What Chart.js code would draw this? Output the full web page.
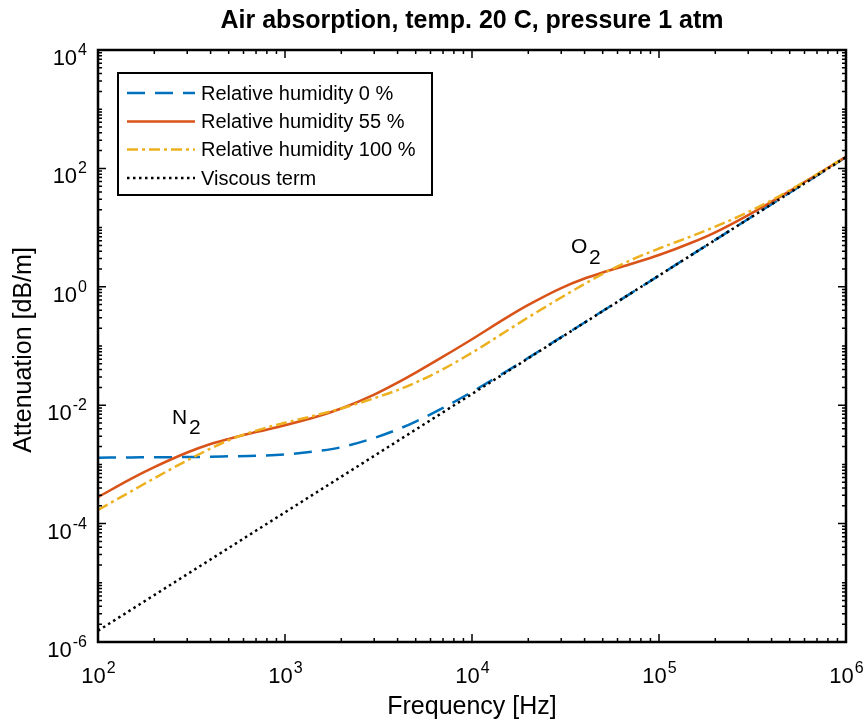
<!DOCTYPE html>
<html>
<head>
<meta charset="utf-8">
<script src="https://cdn.jsdelivr.net/npm/chart.js@4.4.1/dist/chart.umd.min.js"></script>
<style>
  body { margin: 0; background: #fff; }
  #wrap { width: 867px; height: 724px; }
</style>
</head>
<body>
<div id="wrap"><canvas id="airChart" width="867" height="724"></canvas></div>
<script>
// frequency grid [Hz] and attenuation [dB/m]
const freqs = [100, 150, 200, 300, 400, 500, 700, 1000, 1500, 2000, 3000, 4000, 5000, 7000,
  1e4, 1.5e4, 2e4, 3e4, 4e4, 5e4, 7e4, 1e5, 1.5e5, 2e5, 3e5, 5e5, 7e5, 1e6];
const rh0 = [1.3e-3, 1.31e-3, 1.32e-3, 1.33e-3, 1.35e-3, 1.37e-3, 1.4e-3, 1.47e-3, 1.68e-3, 1.95e-3,
  2.8e-3, 3.9e-3, 5.3e-3, 9.0e-3, 0.0168, 0.036, 0.063, 0.141, 0.25, 0.39, 0.76, 1.55, 3.5, 6.2,
  14, 38.8, 76, 155];
const rh55 = [2.8e-4, 5.7e-4, 9.0e-4, 1.59e-3, 2.21e-3, 2.7e-3, 3.52e-3, 4.59e-3, 6.5e-3, 8.8e-3,
  0.0151, 0.024, 0.0355, 0.066, 0.130, 0.290, 0.494, 0.953, 1.38, 1.74, 2.41, 3.44, 5.6, 8.34,
  16.3, 41.5, 79, 157];
const rh100 = [1.7e-4, 3.49e-4, 5.83e-4, 1.17e-3, 1.85e-3, 2.56e-3, 3.72e-3, 5.04e-3, 6.9e-3, 8.81e-3,
  0.0131, 0.018, 0.0241, 0.0406, 0.0771, 0.172, 0.305, 0.66, 1.12, 1.66, 2.78, 4.43, 7.2, 10.4,
  18.3, 42.6, 79.5, 157];
const viscFreqs = [100, 1e3, 1e4, 1e5, 1e6];
const viscous = [1.55e-6, 1.55e-4, 1.55e-2, 1.55, 155];

const xMajor = [2, 3, 4, 5, 6];           // exponents of labelled x ticks
const yMajor = [-6, -4, -2, 0, 2, 4];     // exponents of labelled y ticks
const seriesNames = ['Relative humidity 0 %', 'Relative humidity 55 %', 'Relative humidity 100 %', 'Viscous term'];

const FONT = '"Liberation Sans", Arial, sans-serif';
const BLUE = '#0072BD', RED = '#D95319', YELLOW = '#EDB120';

function pts(xs, ys) {
  return xs.map((x, i) => ({ x: x, y: ys[i] }));
}

// "10" with a raised exponent, anchored on its baseline
function powLabel(ctx, exp, x, y, align) {
  const base = '10', sup = String(exp);
  ctx.font = '22px ' + FONT;
  const wb = ctx.measureText(base).width;
  ctx.font = '16px ' + FONT;
  const ws = ctx.measureText(sup).width;
  const left = align === 'center' ? x - (wb + ws) / 2 : x - (wb + ws);
  ctx.textAlign = 'left';
  ctx.textBaseline = 'alphabetic';
  ctx.font = '22px ' + FONT;
  ctx.fillText(base, left, y);
  ctx.font = '16px ' + FONT;
  ctx.fillText(sup, left + wb + 1, y - 10);
}

const frame = {
  id: 'frame',
  afterDraw(chart) {
    const ctx = chart.ctx;
    const { left, right, top, bottom } = chart.chartArea;
    const xs = chart.scales.x, ys = chart.scales.y;
    ctx.save();
    ctx.strokeStyle = '#000';
    ctx.fillStyle = '#000';

    // ticks, inward, on all four sides
    ctx.lineWidth = 1.5;
    ctx.beginPath();
    for (let e = 2; e <= 6; e++) {
      for (let k = 1; k <= 9; k++) {
        if (e === 6 && k > 1) break;
        const px = xs.getPixelForValue(k * Math.pow(10, e));
        const len = (k === 1) ? 8 : 4;
        ctx.moveTo(px, bottom); ctx.lineTo(px, bottom - len);
        ctx.moveTo(px, top); ctx.lineTo(px, top + len);
      }
    }
    for (let e = -6; e <= 4; e++) {
      for (let k = 1; k <= 9; k++) {
        if (e === 4 && k > 1) break;
        const py = ys.getPixelForValue(k * Math.pow(10, e));
        const len = (k === 1 && yMajor.includes(e)) ? 8 : 4;
        ctx.moveTo(left, py); ctx.lineTo(left + len, py);
        ctx.moveTo(right, py); ctx.lineTo(right - len, py);
      }
    }
    ctx.stroke();

    // box
    ctx.lineWidth = 2.5;
    ctx.strokeRect(left, top, right - left, bottom - top);

    // tick labels
    xMajor.forEach(e => powLabel(ctx, e, xs.getPixelForValue(Math.pow(10, e)), bottom + 41, 'center'));
    yMajor.forEach(e => powLabel(ctx, e, left - 12, ys.getPixelForValue(Math.pow(10, e)) + 15, 'right'));

    // title and axis titles
    ctx.textAlign = 'center';
    ctx.textBaseline = 'alphabetic';
    ctx.font = 'bold 25px ' + FONT;
    ctx.fillText('Air absorption, temp. 20 C, pressure 1 atm', (left + right) / 2, 28);
    ctx.font = '25px ' + FONT;
    ctx.fillText('Frequency [Hz]', (left + right) / 2, 714);
    ctx.save();
    ctx.translate(31, 350);
    ctx.rotate(-Math.PI / 2);
    ctx.fillText('Attenuation [dB/m]', 0, 0);
    ctx.restore();

    // N2 / O2 annotations
    ctx.textAlign = 'left';
    ctx.font = '21px ' + FONT;
    ctx.fillText('N', 172, 424);
    ctx.fillText('2', 189, 434);
    ctx.fillText('O', 571, 253);
    ctx.fillText('2', 589, 264);

    // legend
    const lx = 118, ly = 73, lw = 314, lh = 122;
    ctx.fillStyle = '#fff';
    ctx.fillRect(lx, ly, lw, lh);
    ctx.lineWidth = 2;
    ctx.strokeStyle = '#000';
    ctx.strokeRect(lx, ly, lw, lh);
    const rows = [93, 121.5, 149.5, 178];
    chart.data.datasets.forEach((ds, i) => {
      ctx.save();
      ctx.strokeStyle = ds.borderColor;
      ctx.lineWidth = ds.borderWidth;
      ctx.setLineDash(ds.borderDash || []);
      ctx.beginPath();
      ctx.moveTo(127, rows[i]);
      ctx.lineTo(195, rows[i]);
      ctx.stroke();
      ctx.restore();
      ctx.fillStyle = '#000';
      ctx.font = '20px ' + FONT;
      ctx.textBaseline = 'middle';
      ctx.fillText(ds.label, 201, rows[i] + 1);
    });
    ctx.restore();
  }
};

new Chart(document.getElementById('airChart').getContext('2d'), {
  type: 'line',
  data: {
    datasets: [
      { label: seriesNames[0], data: pts(freqs, rh0), borderColor: BLUE, borderWidth: 2.5,
        borderDash: [18, 10], order: 3 },
      { label: seriesNames[1], data: pts(freqs, rh55), borderColor: RED, borderWidth: 2.5,
        order: 2 },
      { label: seriesNames[2], data: pts(freqs, rh100), borderColor: YELLOW, borderWidth: 2.5,
        borderDash: [11, 4, 3, 4], order: 1 },
      { label: seriesNames[3], data: pts(viscFreqs, viscous), borderColor: '#000', borderWidth: 2.5,
        borderDash: [2.5, 3.5], order: 0 }
    ]
  },
  options: {
    responsive: false,
    animation: false,
    layout: { padding: { left: 98, right: 21, top: 50, bottom: 82 } },
    elements: {
      point: { radius: 0 },
      line: { tension: 0.4, cubicInterpolationMode: 'monotone', fill: false }
    },
    scales: {
      x: { type: 'logarithmic', min: 100, max: 1e6, display: false },
      y: { type: 'logarithmic', min: 1e-6, max: 1e4, display: false }
    },
    plugins: {
      legend: { display: false },
      title: { display: false },
      tooltip: { enabled: false }
    }
  },
  plugins: [frame]
});
</script>
</body>
</html>
